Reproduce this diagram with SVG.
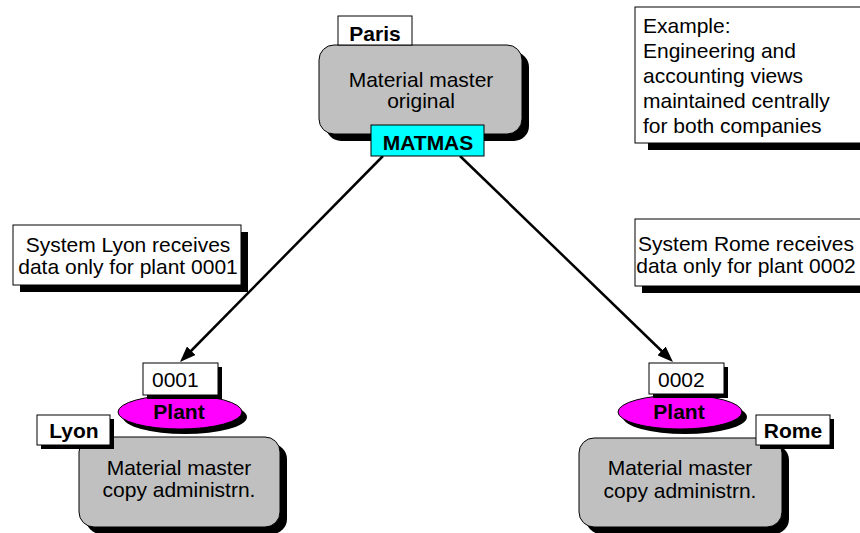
<svg xmlns="http://www.w3.org/2000/svg" width="860" height="533" viewBox="0 0 860 533">
<style>
text{font-family:"Liberation Sans",Arial,sans-serif;font-size:21px;fill:#000}
.b{font-weight:bold}
.m{text-anchor:middle}
.box{fill:#fff;stroke:#000;stroke-width:1}
.gray{fill:#c0c0c0;stroke:#000;stroke-width:1}
.sh{fill:#000}
.plant{fill:#ff00ff;stroke:#000;stroke-width:1}
.con{stroke:#000;stroke-width:2.5;fill:none;marker-end:url(#arr)}
</style>
<defs>
<marker id="arr" markerWidth="16" markerHeight="12" refX="6" refY="6" orient="auto" markerUnits="userSpaceOnUse">
<path d="M0,0 L16,6 L0,12 z" fill="#000"/>
</marker>
</defs>
<rect width="860" height="533" fill="#fff"/>

<g id="connectors">
<line class="con" x1="383" y1="156" x2="187" y2="355"/>
<line class="con" x1="460" y1="156" x2="665.8" y2="355"/>
</g>

<g id="paris">
<rect class="sh" x="326" y="52" width="203" height="89" rx="15"/>
<rect class="gray" x="319" y="45" width="203" height="89" rx="15"/>
<text class="m" x="421" y="87">Material master</text>
<text class="m" x="421" y="108">original</text>
<rect class="box" x="338" y="16" width="74" height="29"/>
<text class="b m" x="375" y="41">Paris</text>
<rect x="371" y="125" width="113" height="31" fill="#00ffff" stroke="#000"/>
<text class="b m" x="428" y="150">MATMAS</text>
</g>

<g id="example">
<rect class="sh" x="648" y="14" width="220" height="136"/>
<rect class="box" x="635" y="7" width="230" height="136"/>
<text x="643" y="33">Example:</text>
<text x="643" y="58">Engineering and</text>
<text x="643" y="83">accounting views</text>
<text x="643" y="108">maintained centrally</text>
<text x="643" y="133">for both companies</text>
</g>

<g id="note-lyon">
<rect class="sh" x="20" y="232" width="228" height="60"/>
<rect class="box" x="13" y="225" width="228" height="60"/>
<text class="m" x="128" y="252">System Lyon receives</text>
<text class="m" x="128" y="274">data only for plant 0001</text>
</g>

<g id="note-rome">
<rect class="sh" x="642" y="226" width="228" height="67"/>
<rect class="box" x="635" y="219" width="230" height="67"/>
<text class="m" x="746" y="251">System Rome receives</text>
<text class="m" x="746" y="273">data only for plant 0002</text>
</g>

<g id="lyon">
<rect class="sh" x="86" y="444" width="201" height="90" rx="15"/>
<rect class="gray" x="79" y="437" width="201" height="90" rx="15"/>
<text class="m" x="179" y="475">Material master</text>
<text class="m" x="179" y="497">copy administrn.</text>
<ellipse class="sh" cx="185" cy="417" rx="62" ry="17"/>
<ellipse class="plant" cx="180" cy="412" rx="62" ry="17"/>
<text class="b m" x="179" y="419">Plant</text>
<rect class="sh" x="147" y="367" width="75" height="32"/>
<rect class="box" x="143" y="363" width="75" height="32"/>
<text x="152" y="387">0001</text>
<rect class="sh" x="41" y="419" width="73" height="30"/>
<rect class="box" x="37" y="415" width="73" height="30"/>
<text class="b m" x="74" y="438">Lyon</text>
</g>

<g id="rome">
<rect class="sh" x="586" y="445" width="203" height="89" rx="15"/>
<rect class="gray" x="579" y="438" width="203" height="89" rx="15"/>
<text class="m" x="680" y="475">Material master</text>
<text class="m" x="680" y="498">copy administrn.</text>
<ellipse class="sh" cx="685" cy="417" rx="62" ry="17"/>
<ellipse class="plant" cx="680" cy="412" rx="62" ry="17"/>
<text class="b m" x="679" y="419">Plant</text>
<rect class="sh" x="653" y="367" width="75" height="31"/>
<rect class="box" x="649" y="363" width="75" height="31"/>
<text x="658" y="387">0002</text>
<rect class="sh" x="760" y="419" width="74" height="30"/>
<rect class="box" x="756" y="415" width="74" height="30"/>
<text class="b m" x="793" y="438">Rome</text>
</g>
</svg>
